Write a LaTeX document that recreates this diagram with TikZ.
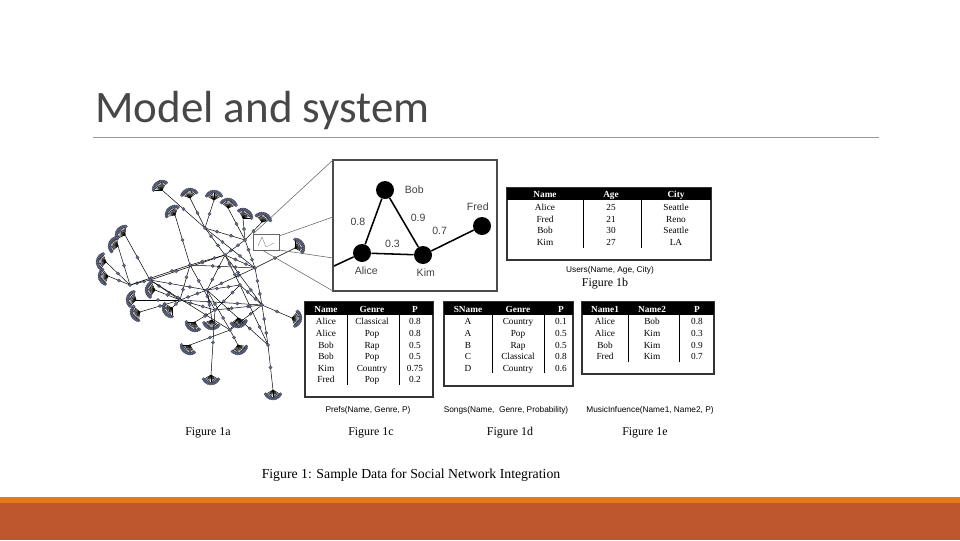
\documentclass[tikz,border=0pt]{standalone}
\usepackage{fontspec}
\setmainfont{Liberation Serif}
\newfontfamily\titlefont{Carlito}
\newfontfamily\capfont{Liberation Sans}
\usetikzlibrary{positioning}
\definecolor{barorange}{RGB}{224,122,32}
\definecolor{barred}{RGB}{190,87,45}
\definecolor{leafblue}{RGB}{95,105,150}
\tikzset{
  leaf/.style={circle, fill=leafblue, draw=black!80, line width=0.15pt, inner sep=0, minimum size=2.4pt},
  person/.style={circle, fill=black, inner sep=0, minimum size=18*0.025cm},
  glabel/.style={font=\capfont\fontsize{7.5}{8}\selectfont, text=black!75},
  cell/.style={font=\fontsize{6.6}{7}\selectfont, inner sep=0, text height=1.5ex, text depth=0.3ex},
  head/.style={font=\bfseries\fontsize{6.6}{7}\selectfont, text=white, inner sep=0, text height=1.5ex, text depth=0.3ex},
  tcap/.style={font=\capfont\fontsize{5.9}{7}\selectfont, inner sep=0},
  figlab/.style={font=\fontsize{8.5}{9}\selectfont, inner sep=0}
}
\begin{document}
\begin{tikzpicture}[x=0.025cm, y=-0.025cm]
  \useasboundingbox (0,0) rectangle (960,540);
  % title and bars
  \node[anchor=base west, inner sep=0, font=\titlefont\fontsize{32}{36}\selectfont, text=black!72] (title) at (95,122) {Model and system};
  \draw[black!40, line width=0.5pt] (93,137) -- (879,137);
  \fill[barorange] (0,497) rectangle (960,503);
  \fill[barred] (0,503) rectangle (960,540);
  % network (figure 1a)
  \begin{scope}[line width=0.35pt]
    \foreach \n/\x/\y in {h1/225/255, h2/207/290, h3/255/268, h4/262/305, h5/180/300,
                          h6/150/280, h7/230/330, h8/205/228, h9/268/345, h10/190/265,
                          h11/240/285, h12/215/310, h13/130/285, h14/245/240}
      \coordinate (\n) at (\x,\y);
    \foreach \a/\b in {h1/h2, h1/h3, h2/h5, h5/h6, h3/h4, h2/h7, h4/h7, h1/h8, h4/h9,
                       h3/h2, h6/h1, h5/h4, h8/h3, h6/h7, h2/h9, h1/h4, h10/h1, h10/h5,
                       h10/h3, h11/h2, h11/h4, h11/h1, h12/h5, h12/h4, h12/h11, h13/h6,
                       h13/h10, h14/h1, h14/h3, h14/h8, h11/h9, h10/h12, h6/h2}
      \draw (\a) -- node[leaf, pos=0.35]{} node[leaf, pos=0.7]{} (\b);
    \foreach \x/\y/\ang/\p in {162/190/240/h8, 190/198/260/h8, 228/208/280/h14, 243/218/300/h14,
        125/235/215/h6, 118/246/200/h13, 106/262/190/h13, 108/276/170/h13,
        155/290/185/h5, 136/300/195/h5, 140/312/160/h5, 172/308/150/h5,
        195/322/120/h12, 212/320/100/h2, 238/318/80/h7, 190/345/120/h7,
        238/345/70/h7, 211/375/90/h12, 273/390/90/h9, 292/318/10/h4, 295/248/330/h3,
        262/222/290/h14, 214/200/270/h8, 175/215/230/h10}
    {
      \draw (\p) -- node[leaf, pos=0.5]{} (\x,\y);
      \foreach \k in {-60,-48,...,60}
        \draw (\x,\y) -- ++(\ang+\k:8.5) node[leaf]{};
    }
    \foreach \n in {h1,h2,h3,h4,h5,h6,h7,h8,h9,h10,h11,h12,h13,h14}
      \node[leaf] at (\n) {};
  \end{scope}
  % zoom box
  \draw[black!60, line width=0.5pt] (253,234) rectangle (279,250);
  \draw[black!70, line width=1pt] (333,160) rectangle (497,291);
  \draw[black!60, line width=0.4pt] (253,234) -- (333,160);
  \draw[black!60, line width=0.4pt] (279,236) -- (333,217);
  \draw[black!60, line width=0.4pt] (279,250) -- (333,258);
  \draw[black!60, line width=0.4pt] (262,250) -- (333,291);
  \draw[black!50, line width=0.3pt] (258,246) -- (262,237) -- (266,247) -- (274,243);
  % people graph
  \node[person] (bob) at (385,190) {};
  \node[person] (alice) at (362,253) {};
  \node[person] (kim) at (423,255) {};
  \node[person] (fred) at (482,226) {};
  \coordinate (out) at (334,266);
  \draw[line width=1.1pt] (bob) -- node[glabel, left=2pt]{0.8} (alice);
  \draw[line width=1.1pt] (bob) -- node[glabel, right=3pt, pos=0.4]{0.9} (kim);
  \draw[line width=1.1pt] (alice) -- node[glabel, above=1pt]{0.3} (kim);
  \draw[line width=1.1pt] (kim) -- node[glabel, above left=0pt and 0pt, pos=0.5]{0.7} (fred);
  \draw[line width=1.1pt] (alice) -- (out);
  \node[glabel, right=4pt of bob] (boblab) {Bob};
  \node[glabel, above=1pt of fred, xshift=-3pt] (fredlab) {Fred};
  \node[glabel, below=0pt of alice, xshift=3pt] (alicelab) {Alice};
  \node[glabel, below=0pt of kim, xshift=2pt] (kimlab) {Kim};
  % users table (figure 1b)
  \draw[black!80, line width=0.8pt] (507,188) rectangle (711,260);
  \fill[black] (507,188) rectangle (711,200);
  \node[head] (uh1) at (545,194) {Name};
  \node[head] (uh2) at (611,194) {Age};
  \node[head] (uh3) at (676,194) {City};
  \draw[line width=0.5pt] (583,200) -- (583,248) (641,200) -- (641,248);
  \foreach \a/\b/\c [count=\i] in {Alice/25/Seattle, Fred/21/Reno, Bob/30/Seattle, Kim/27/LA}
  {
    \node[cell] at (545,195+11.6*\i) {\a};
    \node[cell] at (611,195+11.6*\i) {\b};
    \node[cell] at (676,195+11.6*\i) {\c};
  }
  \node[tcap] (ucap) at (610,270) {Users(Name, Age, City)};
  \node[figlab] (f1b) at (605,284) {Figure 1b};
  % prefs table (figure 1c)
  \draw[black!80, line width=0.8pt] (305,302) rectangle (433,397);
  \fill[black] (305,302) rectangle (433,315);
  \node[head] (ph1) at (326,309) {Name};
  \node[head] (ph2) at (372,309) {Genre};
  \node[head] (ph3) at (415,309) {P};
  \draw[line width=0.5pt] (347,315) -- (347,385) (399,315) -- (399,385);
  \foreach \a/\b/\c [count=\i] in {Alice/Classical/0.8, Alice/Pop/0.8, Bob/Rap/0.5, Bob/Pop/0.5,
                                   Kim/Country/0.75, Fred/Pop/0.2}
  {
    \node[cell] at (326,309.5+11.6*\i) {\a};
    \node[cell] at (372,309.5+11.6*\i) {\b};
    \node[cell] at (415,309.5+11.6*\i) {\c};
  }
  \node[tcap] (pcap) at (368,410) {Prefs(Name, Genre, P)};
  \node[figlab] (f1c) at (371,433) {Figure 1c};
  % songs table (figure 1d)
  \draw[black!80, line width=0.8pt] (444,302) rectangle (573,386);
  \fill[black] (444,302) rectangle (573,315);
  \node[head] (sh1) at (468,309) {SName};
  \node[head] (sh2) at (518,309) {Genre};
  \node[head] (sh3) at (561,309) {P};
  \draw[line width=0.5pt] (492,315) -- (492,373) (544,315) -- (544,373);
  \foreach \a/\b/\c [count=\i] in {A/Country/0.1, A/Pop/0.5, B/Rap/0.5, C/Classical/0.8, D/Country/0.6}
  {
    \node[cell] at (468,309.5+11.6*\i) {\a};
    \node[cell] at (518,309.5+11.6*\i) {\b};
    \node[cell] at (561,309.5+11.6*\i) {\c};
  }
  \node[tcap] (scap) at (506,410) {Songs(Name,\ \ Genre, Probability)};
  \node[figlab] (f1d) at (510,433) {Figure 1d};
  % music influence table (figure 1e)
  \draw[black!80, line width=0.8pt] (582,302) rectangle (714,374);
  \fill[black] (582,302) rectangle (714,315);
  \node[head] (mh1) at (605,309) {Name1};
  \node[head] (mh2) at (652,309) {Name2};
  \node[head] (mh3) at (697,309) {P};
  \draw[line width=0.5pt] (628,315) -- (628,362) (679,315) -- (679,362);
  \foreach \a/\b/\c [count=\i] in {Alice/Bob/0.8, Alice/Kim/0.3, Bob/Kim/0.9, Fred/Kim/0.7}
  {
    \node[cell] at (605,309.5+11.6*\i) {\a};
    \node[cell] at (652,309.5+11.6*\i) {\b};
    \node[cell] at (697,309.5+11.6*\i) {\c};
  }
  \node[tcap] (mcap) at (650,410) {MusicInfuence(Name1, Name2, P)};
  \node[figlab] (f1e) at (645,433) {Figure 1e};
  % figure captions
  \node[figlab] (f1a) at (208,433) {Figure 1a};
  \node[figlab, font=\fontsize{9.8}{11}\selectfont] (fig1) at (411,475) {Figure 1: Sample Data for Social Network Integration};
\end{tikzpicture}
\end{document}
